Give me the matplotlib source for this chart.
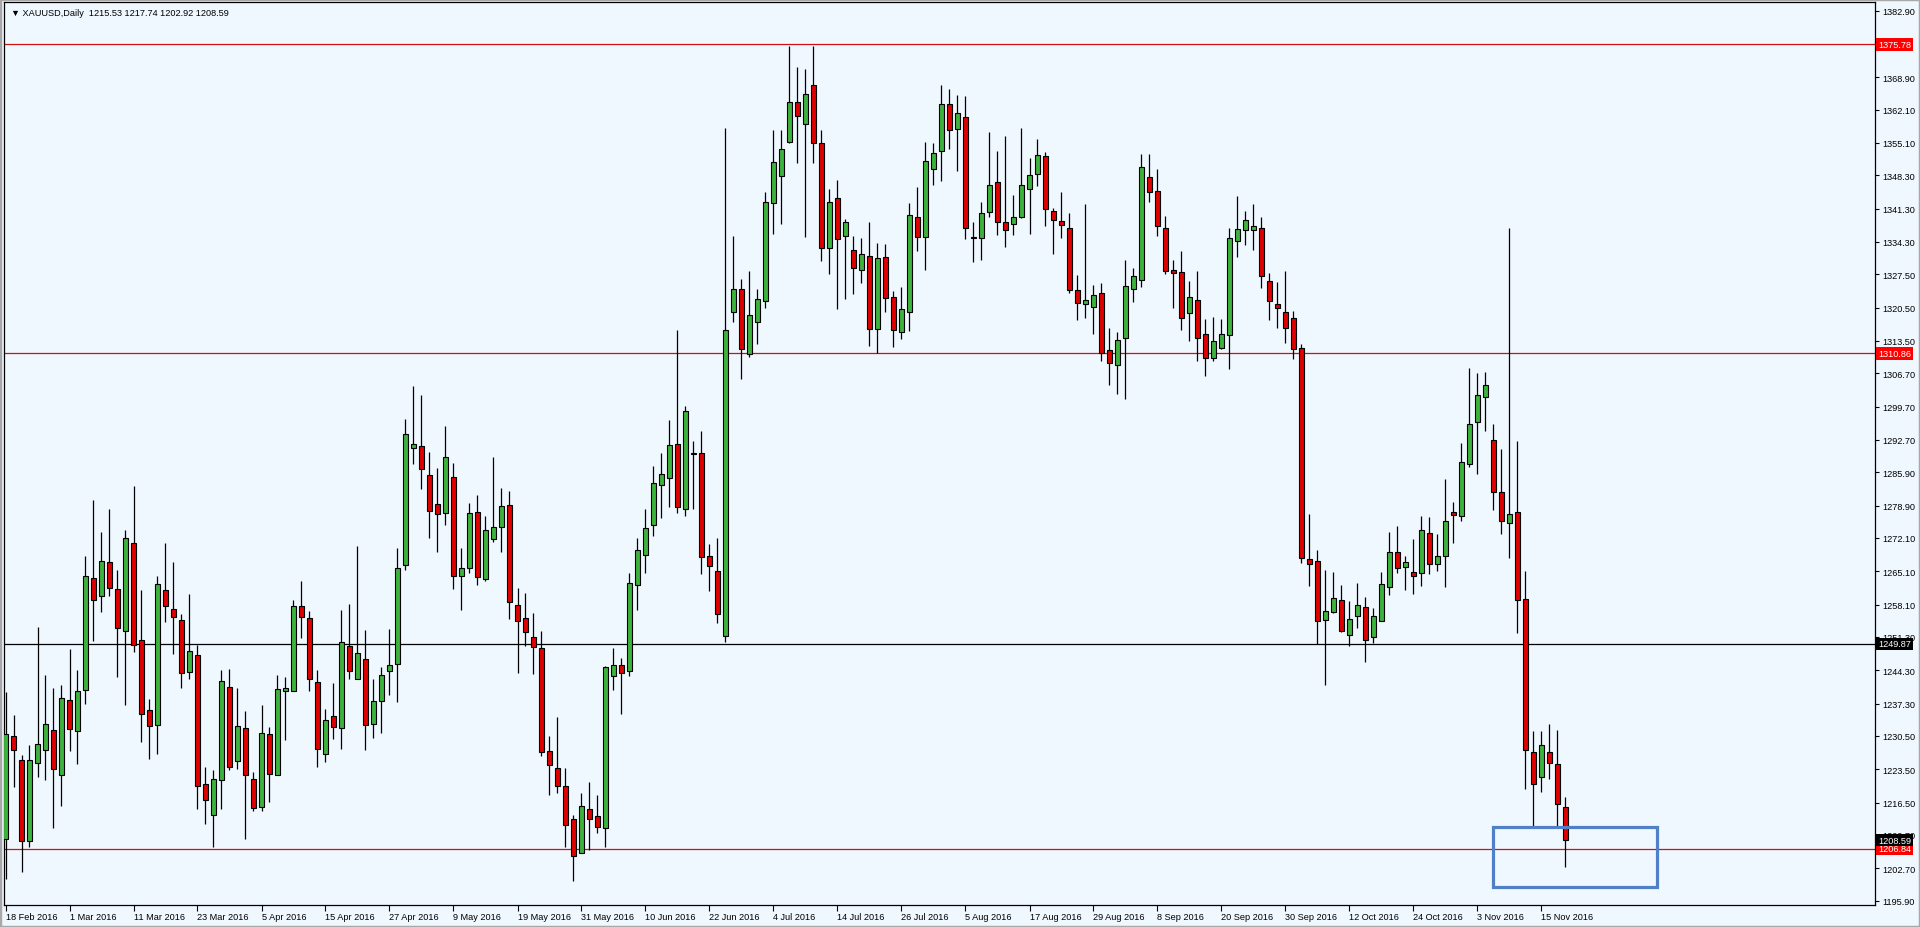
import matplotlib
matplotlib.use("Agg")
import matplotlib.pyplot as plt
import matplotlib.transforms as mtransforms
from matplotlib.patches import Rectangle

# ---------------- data ----------------
opens = [1208.9, 1230.5, 1225.4, 1208.4, 1224.9, 1227.5, 1231.7, 1222.2, 1238.0, 1231.5,
         1240.1, 1263.6, 1259.9, 1267.0, 1261.4, 1252.5, 1271.0, 1250.6, 1236.0, 1232.7,
         1261.1, 1257.1, 1254.8, 1243.9, 1247.6, 1220.3, 1213.8, 1221.2, 1240.8, 1225.2,
         1232.2, 1221.4, 1215.6, 1230.9, 1222.2, 1239.9, 1239.9, 1257.8, 1255.3, 1241.8,
         1226.8, 1234.7, 1232.2, 1249.4, 1242.5, 1246.6, 1233.0, 1237.8, 1244.1, 1245.6,
         1266.5, 1291.0, 1291.5, 1285.4, 1279.3, 1277.3, 1284.9, 1264.1, 1265.8, 1277.6,
         1263.4, 1271.8, 1274.3, 1279.1, 1257.9, 1255.2, 1251.3, 1249.0, 1227.3, 1223.8,
         1220.0, 1213.1, 1206.0, 1215.1, 1213.7, 1211.2, 1243.1, 1245.3, 1244.2, 1262.2,
         1268.5, 1274.8, 1283.2, 1284.7, 1291.8, 1278.2, 1289.9, 1290.0, 1268.3, 1265.1,
         1251.5, 1319.5, 1324.4, 1310.7, 1317.4, 1321.8, 1342.4, 1348.1, 1355.3, 1363.7,
         1359.1, 1367.3, 1355.0, 1333.0, 1343.6, 1335.6, 1332.6, 1328.4, 1331.4, 1315.9,
         1331.2, 1322.8, 1315.4, 1319.5, 1339.5, 1335.4, 1349.7, 1353.3, 1363.2, 1358.1,
         1360.6, 1335.3, 1335.1, 1340.6, 1346.8, 1338.4, 1338.1, 1339.6, 1345.3, 1348.6,
         1352.4, 1340.7, 1338.7, 1337.3, 1324.1, 1321.3, 1320.7, 1323.5, 1311.5, 1308.5,
         1314.1, 1324.3, 1326.3, 1348.0, 1345.0, 1337.3, 1328.4, 1327.9, 1319.3, 1322.1,
         1314.9, 1309.9, 1312.1, 1314.7, 1334.5, 1336.8, 1336.8, 1337.3, 1326.0, 1321.3,
         1319.6, 1318.3, 1312.1, 1267.6, 1267.2, 1254.9, 1256.6, 1259.1, 1251.6, 1255.7,
         1257.6, 1251.2, 1254.6, 1261.7, 1269.2, 1265.9, 1264.9, 1264.7, 1273.1, 1266.7,
         1268.2, 1277.5, 1276.8, 1287.7, 1296.5, 1301.8, 1292.7, 1281.7, 1275.2, 1277.6,
         1259.2, 1227.1, 1221.8, 1227.1, 1224.6, 1215.53]
highs = [1239.7, 1234.8, 1226.4, 1228.5, 1253.4, 1243.4, 1240.5, 1241.3, 1248.7, 1244.3,
         1268.4, 1280.0, 1273.3, 1278.2, 1265.3, 1273.7, 1283.1, 1261.1, 1238.3, 1264.2,
         1271.1, 1267.0, 1256.2, 1260.4, 1249.7, 1224.0, 1223.3, 1244.3, 1244.5, 1240.5,
         1235.7, 1222.9, 1236.9, 1232.3, 1243.4, 1242.9, 1259.0, 1263.0, 1256.7, 1244.3,
         1236.1, 1241.7, 1256.9, 1258.3, 1270.5, 1252.7, 1242.5, 1245.0, 1253.0, 1270.0,
         1297.0, 1304.0, 1302.2, 1290.2, 1286.8, 1295.7, 1287.9, 1270.0, 1279.5, 1281.1,
         1276.7, 1289.1, 1282.5, 1281.9, 1261.6, 1260.6, 1256.4, 1252.6, 1230.5, 1234.5,
         1223.8, 1213.9, 1218.6, 1220.8, 1218.1, 1245.2, 1249.0, 1246.9, 1264.7, 1272.0,
         1278.2, 1287.2, 1290.0, 1296.9, 1315.7, 1299.9, 1292.4, 1294.5, 1270.9, 1272.0,
         1358.3, 1335.6, 1326.4, 1328.2, 1324.4, 1344.8, 1357.7, 1357.7, 1375.4, 1371.0,
         1370.7, 1375.4, 1357.7, 1345.4, 1347.3, 1339.0, 1335.6, 1335.2, 1338.4, 1334.0,
         1333.8, 1324.0, 1324.8, 1342.4, 1345.9, 1355.3, 1355.0, 1367.3, 1366.5, 1365.2,
         1365.0, 1338.5, 1342.6, 1357.4, 1353.4, 1356.6, 1344.2, 1358.2, 1352.0, 1356.0,
         1353.2, 1341.5, 1344.8, 1340.4, 1327.3, 1342.3, 1325.3, 1325.7, 1316.2, 1315.3,
         1330.4, 1328.9, 1352.8, 1352.8, 1349.6, 1339.8, 1330.4, 1332.3, 1326.1, 1328.1,
         1318.1, 1318.5, 1318.1, 1337.3, 1344.0, 1340.8, 1342.2, 1339.5, 1327.7, 1325.9,
         1328.1, 1319.8, 1312.8, 1277.2, 1269.6, 1265.4, 1264.9, 1262.2, 1258.9, 1262.6,
         1259.6, 1257.4, 1264.9, 1273.4, 1274.6, 1268.2, 1271.9, 1276.8, 1276.5, 1272.9,
         1284.5, 1279.7, 1292.0, 1307.8, 1306.7, 1307.0, 1296.0, 1290.8, 1337.3, 1292.5,
         1265.2, 1231.5, 1231.5, 1233.1, 1231.8, 1217.74]
lows = [1200.5, 1219.8, 1201.9, 1207.2, 1221.9, 1221.2, 1211.2, 1215.8, 1227.3, 1224.7,
        1237.3, 1250.4, 1256.5, 1260.0, 1242.9, 1237.1, 1248.1, 1229.2, 1225.6, 1226.6,
        1254.4, 1247.8, 1240.5, 1242.4, 1215.2, 1212.1, 1207.2, 1215.2, 1223.3, 1223.6,
        1208.8, 1214.7, 1214.7, 1216.6, 1222.2, 1229.6, 1239.9, 1251.1, 1239.9, 1224.0,
        1225.0, 1229.9, 1227.7, 1242.4, 1242.5, 1227.5, 1230.1, 1231.2, 1239.2, 1237.6,
        1265.4, 1287.7, 1282.4, 1272.0, 1269.1, 1274.8, 1261.4, 1257.0, 1264.7, 1262.2,
        1263.0, 1271.3, 1269.1, 1255.1, 1243.8, 1249.3, 1243.5, 1226.3, 1218.1, 1218.6,
        1207.1, 1200.0, 1205.8, 1206.6, 1210.2, 1207.1, 1240.2, 1235.1, 1243.1, 1257.0,
        1264.7, 1272.5, 1276.3, 1278.6, 1277.4, 1276.8, 1278.2, 1264.5, 1261.0, 1254.3,
        1250.2, 1317.5, 1305.5, 1310.1, 1312.9, 1320.5, 1336.0, 1338.0, 1355.0, 1350.9,
        1335.4, 1350.9, 1330.2, 1327.6, 1320.2, 1322.3, 1323.3, 1325.6, 1312.5, 1310.9,
        1319.5, 1312.3, 1313.9, 1315.5, 1332.4, 1328.4, 1346.2, 1347.0, 1353.9, 1349.1,
        1334.8, 1330.0, 1330.5, 1339.6, 1335.7, 1333.3, 1335.7, 1339.4, 1336.0, 1346.0,
        1337.6, 1331.7, 1335.1, 1323.5, 1317.9, 1318.3, 1314.9, 1309.3, 1304.3, 1302.4,
        1301.2, 1321.7, 1324.9, 1342.7, 1335.6, 1327.5, 1320.5, 1315.7, 1313.5, 1309.3,
        1306.2, 1309.3, 1311.8, 1307.6, 1331.1, 1333.6, 1332.5, 1324.7, 1317.9, 1316.1,
        1313.1, 1309.6, 1266.9, 1262.1, 1249.9, 1241.3, 1256.4, 1252.4, 1249.4, 1253.1,
        1246.1, 1250.1, 1254.6, 1260.2, 1264.7, 1261.2, 1260.4, 1262.1, 1264.6, 1265.2,
        1261.7, 1271.1, 1275.6, 1287.0, 1285.5, 1294.5, 1278.0, 1273.0, 1267.9, 1252.2,
        1219.3, 1211.5, 1218.8, 1221.5, 1211.3, 1202.92]
closes = [1230.8, 1227.5, 1208.4, 1225.4, 1228.7, 1232.9, 1223.5, 1238.5, 1232.0, 1239.9,
          1264.1, 1259.0, 1267.2, 1261.6, 1253.2, 1272.1, 1249.5, 1235.2, 1232.5, 1262.5,
          1257.8, 1255.4, 1243.7, 1248.3, 1220.0, 1217.0, 1221.4, 1242.0, 1224.0, 1232.6,
          1222.2, 1215.4, 1231.1, 1222.4, 1240.4, 1240.6, 1257.8, 1255.5, 1242.5, 1227.7,
          1233.8, 1232.4, 1250.2, 1244.1, 1247.9, 1232.7, 1237.8, 1243.2, 1245.5, 1265.8,
          1294.0, 1291.8, 1286.6, 1277.7, 1277.1, 1289.0, 1264.1, 1265.8, 1277.3, 1263.8,
          1273.7, 1274.3, 1278.8, 1258.6, 1254.7, 1252.3, 1249.1, 1227.2, 1224.4, 1219.9,
          1211.8, 1205.2, 1215.7, 1213.1, 1211.3, 1244.9, 1245.3, 1243.8, 1262.7, 1269.6,
          1274.1, 1283.6, 1285.5, 1291.6, 1278.6, 1298.8, 1289.7, 1268.1, 1266.1, 1256.2,
          1315.7, 1324.4, 1311.7, 1318.9, 1322.2, 1342.6, 1351.0, 1353.7, 1363.7, 1360.7,
          1365.3, 1355.1, 1333.0, 1342.6, 1335.0, 1338.4, 1328.8, 1331.8, 1315.9, 1331.0,
          1322.6, 1315.7, 1320.1, 1340.0, 1335.4, 1351.3, 1352.9, 1363.3, 1357.9, 1361.3,
          1337.2, 1335.1, 1340.3, 1346.3, 1338.5, 1336.8, 1339.5, 1346.3, 1348.4, 1352.6,
          1341.1, 1338.8, 1337.9, 1324.1, 1321.5, 1322.1, 1323.1, 1311.0, 1308.8, 1313.7,
          1325.0, 1327.1, 1350.0, 1344.8, 1337.6, 1328.1, 1327.7, 1318.3, 1322.7, 1314.2,
          1309.9, 1313.4, 1314.9, 1335.2, 1337.0, 1338.8, 1337.7, 1327.1, 1321.9, 1320.5,
          1316.1, 1311.8, 1267.9, 1266.6, 1254.6, 1256.7, 1259.4, 1252.6, 1255.1, 1257.9,
          1250.7, 1255.6, 1262.4, 1269.2, 1265.7, 1267.1, 1264.2, 1273.7, 1266.7, 1268.2,
          1275.7, 1277.0, 1288.0, 1296.0, 1302.2, 1304.3, 1281.7, 1275.7, 1277.2, 1259.1,
          1227.5, 1220.3, 1228.5, 1224.8, 1216.1, 1208.59]

date_labels = ["18 Feb 2016", "1 Mar 2016", "11 Mar 2016", "23 Mar 2016", "5 Apr 2016",
               "15 Apr 2016", "27 Apr 2016", "9 May 2016", "19 May 2016", "31 May 2016",
               "10 Jun 2016", "22 Jun 2016", "4 Jul 2016", "14 Jul 2016", "26 Jul 2016",
               "5 Aug 2016", "17 Aug 2016", "29 Aug 2016", "8 Sep 2016", "20 Sep 2016",
               "30 Sep 2016", "12 Oct 2016", "24 Oct 2016", "3 Nov 2016", "15 Nov 2016"]
date_label_step = 8

price_ticks = [1382.90, 1368.90, 1362.10, 1355.10, 1348.30, 1341.30, 1334.30, 1327.50,
               1320.50, 1313.50, 1306.70, 1299.70, 1292.70, 1285.90, 1278.90, 1272.10,
               1265.10, 1258.10, 1251.30, 1244.30, 1237.30, 1230.50, 1223.50, 1216.50,
               1209.70, 1202.70, 1195.90]

red_levels = [1375.78, 1310.86, 1206.84]
black_levels = [1249.87]
bid_price = 1208.59

title_text = "\u25bc XAUUSD,Daily  1215.53 1217.74 1202.92 1208.59"

# rectangle drawn on the chart (bar index / price)
rect_x0, rect_x1 = 185.9, 206.4
rect_y0, rect_y1 = 1198.8, 1211.4

# ---------------- style ----------------
BG = "#F0F8FF"
GREEN = "#3DB23D"
RED = "#E00000"
LINE_RED = "#D01010"
FONT = ["Liberation Sans", "DejaVu Sans"]
FS = 6.6

plt.rcParams["font.family"] = FONT

W, H = 1920, 928
fig = plt.figure(figsize=(W / 100, H / 100), dpi=100, facecolor=BG)
ax_l, ax_r, ax_t, ax_b = 4, 1875, 3, 906
ax = fig.add_axes([ax_l / W, 1 - ax_b / H, (ax_r - ax_l) / W, (ax_b - ax_t) / H])
ax.set_facecolor(BG)

n = len(opens)
idx = list(range(n))

# x scale: 8 px per bar, first bar centre at px 5.5
px_per_bar = 8.0
first_px = 5.5
ax.set_xlim((ax_l - first_px) / px_per_bar, (ax_r - first_px) / px_per_bar)
# y scale: ~4.76 px per dollar, 1382.90 at px 11.5
ppd = 4.76
top_px = 11.5
ax.set_ylim(1382.9 - (ax_b - top_px) / ppd, 1382.9 + (top_px - ax_t) / ppd)

# horizontal levels
for lv in red_levels:
    ax.axhline(lv, color=LINE_RED, lw=0.9, zorder=1)
for lv in black_levels:
    ax.axhline(lv, color="black", lw=0.9, zorder=1)

# wicks
ax.vlines(idx, lows, highs, colors="black", lw=0.9, zorder=2)
# bodies
bottoms = [min(o, c) for o, c in zip(opens, closes)]
heights = [max(abs(c - o), 0.25) for o, c in zip(opens, closes)]
colors = [GREEN if c >= o else RED for o, c in zip(opens, closes)]
ax.bar(idx, heights, bottom=bottoms, width=0.6, color=colors, edgecolor="black",
       linewidth=0.8, zorder=3)

# blue rectangle
ax.add_patch(Rectangle((rect_x0, rect_y0), rect_x1 - rect_x0, rect_y1 - rect_y0,
                       fill=False, edgecolor="#5080C8", lw=2.3, zorder=4))

# spines
for s in ax.spines.values():
    s.set_color("black")
    s.set_linewidth(0.9)

# right price axis
ax.yaxis.tick_right()
ax.set_yticks(price_ticks)
ax.set_yticklabels([f"{v:.2f}" for v in price_ticks], fontsize=FS, family=FONT)
ax.tick_params(axis="y", direction="out", length=3, width=0.8, pad=2, colors="black",
               left=False, right=True)

# bottom date axis
date_pos = [i * date_label_step for i in range(len(date_labels))]
ax.set_xticks(date_pos)
ax.set_xticklabels(date_labels, fontsize=FS, family=FONT, ha="left")
ax.tick_params(axis="x", direction="out", length=4, width=0.8, pad=1, colors="black")

# price boxes on right axis
trans = mtransforms.blended_transform_factory(ax.transAxes, ax.transData)
def price_box(v, fc):
    ax.annotate(f"{v:.2f}", xy=(1.0, v), xycoords=trans, xytext=(3, 0),
                textcoords="offset pixels", ha="left", va="center", fontsize=FS,
                family=FONT, color="white", zorder=10, annotation_clip=False,
                bbox=dict(boxstyle="square,pad=0.18", facecolor=fc, edgecolor="none"))
for lv in red_levels:
    price_box(lv, "#FF0000")
for lv in black_levels:
    price_box(lv, "black")
price_box(bid_price, "black")

# title
fig.text(11 / W, 1 - 13 / H, title_text, fontsize=FS, family=FONT, ha="left",
         va="center", color="black")

# outer window border
fig.patches.append(Rectangle((0, 0), 1, 1, transform=fig.transFigure, fill=False,
                             edgecolor="#A8A8A8", lw=2.5))

fig.savefig("out.png", dpi=100, facecolor=BG)
